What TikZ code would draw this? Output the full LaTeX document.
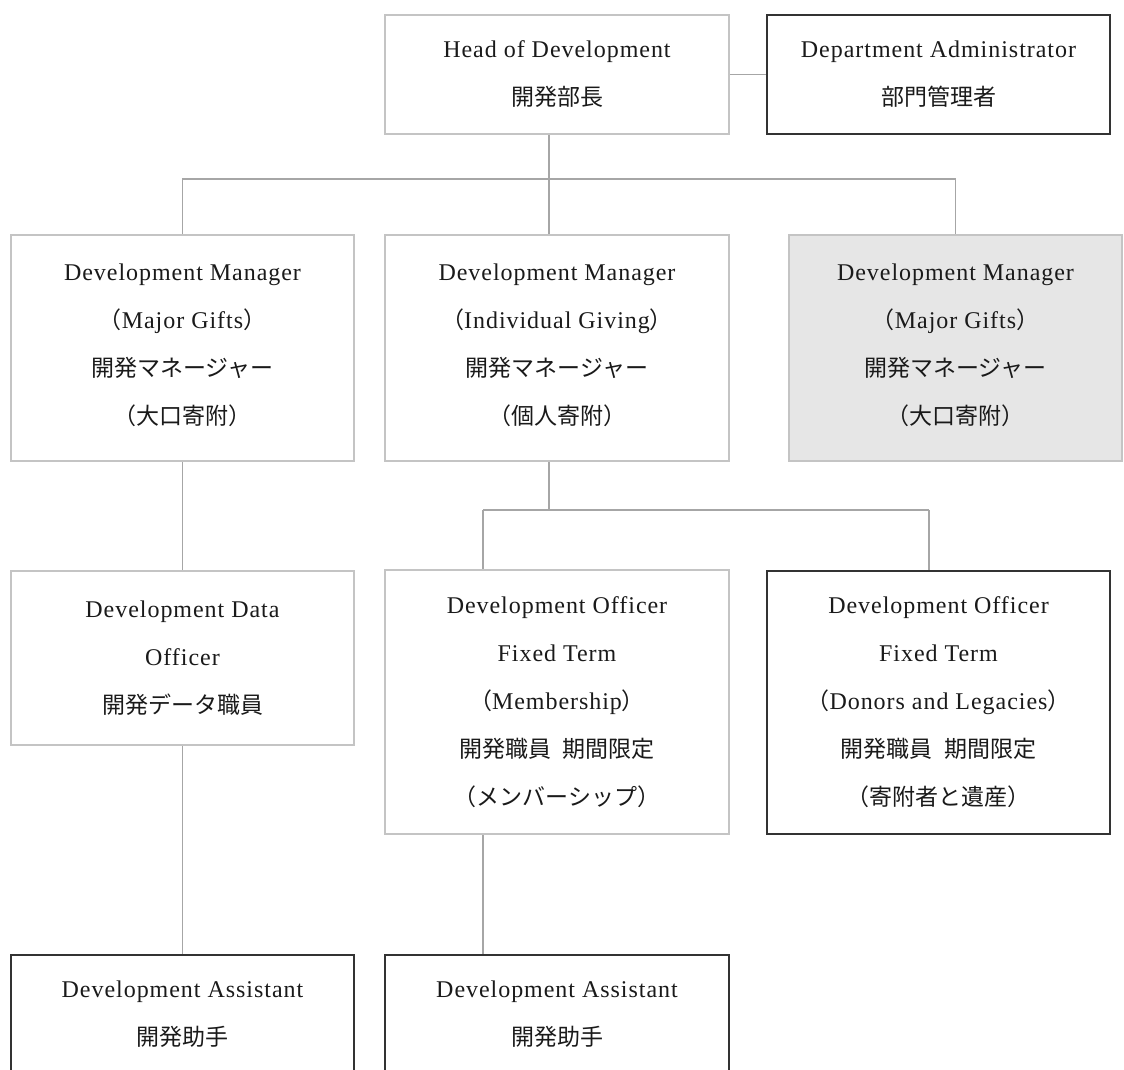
\documentclass[tikz,border=0pt]{standalone}
\usepackage{fontspec}
\setmainfont{Liberation Serif}[LetterSpace=4]
\newfontfamily\jpfont{Noto Sans CJK JP}
\newcommand{\jp}[1]{{\fontsize{23}{48}\selectfont\jpfont #1}}
\definecolor{boxgrey}{HTML}{C4C4C4}
\definecolor{linegrey}{HTML}{A6A6A6}
\definecolor{darkline}{HTML}{333333}
\definecolor{fillgrey}{HTML}{E6E6E6}
\definecolor{textc}{HTML}{1A1A1A}
\tikzset{
  lbox/.style={draw=boxgrey, line width=2pt, fill=white, inner sep=0pt, align=center, text=textc, font=\fontsize{24}{48}\selectfont},
  dbox/.style={lbox, draw=darkline, line width=1.3pt},
  conn/.style={draw=linegrey, line width=1.5pt},
  txt/.style={align=center, text=textc, font=\fontsize{24}{48}\selectfont, inner sep=0pt},
}
\begin{document}
\begin{tikzpicture}[x=1pt,y=-1pt]
\useasboundingbox (0,0) rectangle (1124,1070);
\clip (0,0) rectangle (1124,1070);
\fill[white] (0,0) rectangle (1124,1070);
% row 1
\node[lbox, minimum width=344, minimum height=119] (head) at (557,74.5) {Head of Development\\\jp{開発部長}};
\node[dbox, minimum width=343, minimum height=119] (admin) at (938.5,74.5) {Department Administrator\\\jp{部門管理者}};
% row 2
\node[lbox, minimum width=343, minimum height=226] (dm1) at (182.5,348) {};
\node[lbox, minimum width=344, minimum height=226] (dm2) at (557,348) {};
\node[lbox, fill=fillgrey, minimum width=333, minimum height=226] (dm3) at (955.5,348) {};
\node[txt] (dm1t) at ([yshift=3]dm1.center) {Development Manager\\\jp{（}Major Gifts\jp{）}\\\jp{開発マネージャー}\\\jp{（大口寄附）}};
\node[txt] (dm2t) at ([yshift=3]dm2.center) {Development Manager\\\jp{（}Individual Giving\jp{）}\\\jp{開発マネージャー}\\\jp{（個人寄附）}};
\node[txt] (dm3t) at ([yshift=3]dm3.center) {Development Manager\\\jp{（}Major Gifts\jp{）}\\\jp{開発マネージャー}\\\jp{（大口寄附）}};
% row 3
\node[lbox, minimum width=343, minimum height=174] (ddo) at (182.5,658) {Development Data\\Officer\\\jp{開発データ職員}};
\node[lbox, minimum width=344, minimum height=264] (dom) at (557,702) {Development Officer\\Fixed Term\\\jp{（}Membership\jp{）}\\\jp{開発職員\hspace{0.5em}期間限定}\\\jp{（メンバーシップ）}};
\node[dbox, minimum width=343, minimum height=263] (dod) at (938.5,702.5) {Development Officer\\Fixed Term\\\jp{（}Donors and Legacies\jp{）}\\\jp{開発職員\hspace{0.5em}期間限定}\\\jp{（寄附者と遺産）}};
% row 4
\node[dbox, minimum width=343, minimum height=119] (da1) at (182.5,1014.5) {Development Assistant\\\jp{開発助手}};
\node[dbox, minimum width=344, minimum height=119] (da2) at (557,1014.5) {Development Assistant\\\jp{開発助手}};
% junctions
\coordinate (j1) at (549,179);
\coordinate (j2) at (549,510);
\coordinate (j3) at (483,510);
\coordinate (j4) at (929,510);
% connectors
\draw[conn] (head.east) -- (admin.west);
\draw[conn] (head.south -| j1) -- (dm2.north -| j1);
\draw[conn] (dm1.north) |- (j1) -| (dm3.north);
\draw[conn] (dm2.south -| j2) -- (j2);
\draw[conn] (j3) -- (j4);
\draw[conn] (j3) -- (dom.north -| j3);
\draw[conn] (j4) -- (dod.north -| j4);
\draw[conn] (dm1.south) -- (ddo.north);
\draw[conn] (ddo.south) -- (da1.north);
\draw[conn] (dom.south -| j3) -- (da2.north -| j3);
\end{tikzpicture}
\end{document}
